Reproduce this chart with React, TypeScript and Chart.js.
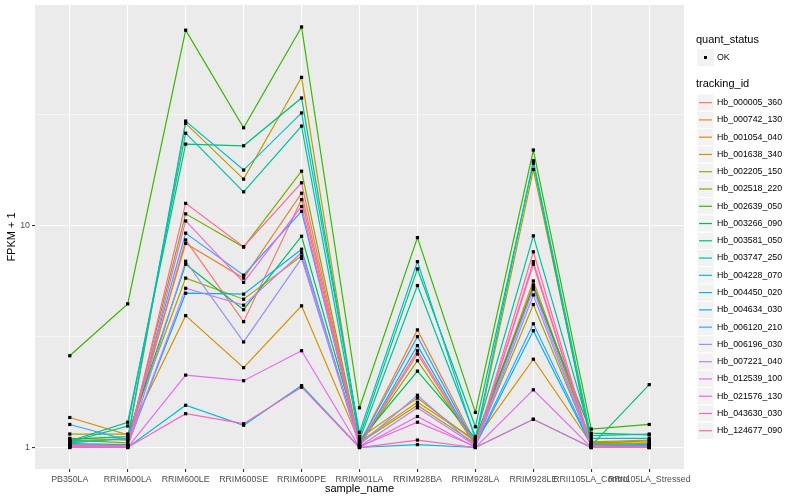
import React, { useEffect, useRef } from "react";
import { Chart, registerables } from "chart.js";

Chart.register(...registerables);

const FONT = '"Liberation Sans", Arial, Helvetica, sans-serif';

const categories = [
  "PB350LA",
  "RRIM600LA",
  "RRIM600LE",
  "RRIM600SE",
  "RRIM600PE",
  "RRIM901LA",
  "RRIM928BA",
  "RRIM928LA",
  "RRIM928LE",
  "RRII105LA_Control",
  "RRII105LA_Stressed",
];

const trackingIds = [
  "Hb_000005_360",
  "Hb_000742_130",
  "Hb_001054_040",
  "Hb_001638_340",
  "Hb_002205_150",
  "Hb_002518_220",
  "Hb_002639_050",
  "Hb_003266_090",
  "Hb_003581_050",
  "Hb_003747_250",
  "Hb_004228_070",
  "Hb_004450_020",
  "Hb_004634_030",
  "Hb_006120_210",
  "Hb_006196_030",
  "Hb_007221_040",
  "Hb_012539_100",
  "Hb_021576_130",
  "Hb_043630_030",
  "Hb_124677_090",
];

const colors = [
  "#F8766D", "#EA8331", "#D89000", "#C09B00", "#A3A500",
  "#7CAE00", "#39B600", "#00BB4E", "#00BF7D", "#00C1A3",
  "#00BFC4", "#00BAE0", "#00B0F6", "#35A2FF", "#9590FF",
  "#C77CFF", "#E76BF3", "#FA62DB", "#FF62BC", "#FF6C91",
];

// FPKM + 1 values, one array per tracking_id, in category order
const hb_000005_360 = [1.03, 1.02, 8.62, 3.69, 13.1, 1.02, 2.64, 1.02, 6.7, 1.01, 1.02];
const hb_000742_130 = [1.06, 1.1, 8.31, 5.8, 14.0, 1.04, 3.39, 1.05, 5.63, 1.06, 1.08];
const hb_001054_040 = [1.365, 1.14, 3.93, 2.29, 4.35, 1.06, 1.6, 1.08, 2.5, 1.04, 1.05];
const hb_001638_340 = [1.1, 1.08, 28.9, 16.2, 46.6, 1.1, 1.67, 1.06, 17.9, 1.07, 1.03];
const hb_002205_150 = [1.15, 1.15, 5.8, 4.66, 7.29, 1.05, 1.55, 1.04, 4.41, 1.03, 1.04];
const hb_002518_220 = [1.08, 1.05, 11.3, 8.0, 17.6, 1.03, 2.46, 1.03, 5.41, 1.05, 1.07];
const hb_002639_050 = [2.59, 4.44, 76, 27.6, 78.6, 1.51, 8.83, 1.44, 21.9, 1.21, 1.27];
const hb_003266_090 = [1.09, 1.12, 6.7, 4.18, 8.96, 1.07, 2.21, 1.1, 5.28, 1.16, 1.14];
const hb_003581_050 = [1.07, 1.3, 23.3, 22.9, 37.6, 1.12, 6.38, 1.24, 19.1, 1.02, 1.92];
const hb_003747_250 = [1.06, 1.25, 26.1, 14.2, 28.1, 1.08, 5.37, 1.12, 8.99, 1.13, 1.15];
const hb_004228_070 = [1.05, 1.1, 29.6, 17.8, 32.2, 1.17, 6.88, 1.09, 19.6, 1.1, 1.1];
const hb_004450_020 = [1.02, 1.0, 1.55, 1.26, 1.9, 1.0, 1.03, 1.0, 1.34, 1.0, 1.01];
const hb_004634_030 = [1.04, 1.03, 4.96, 4.91, 7.83, 1.02, 2.88, 1.02, 3.36, 1.02, 1.03];
const hb_006120_210 = [1.27, 1.08, 9.25, 5.98, 11.6, 1.04, 3.16, 1.03, 3.61, 1.03, 1.02];
const hb_006196_030 = [1.02, 1.01, 6.91, 2.99, 7.12, 1.03, 1.72, 1.01, 4.87, 1.01, 1.01];
const hb_007221_040 = [1.01, 1.02, 5.22, 4.38, 7.55, 1.01, 1.51, 1.02, 5.17, 1.02, 1.0];
const hb_012539_100 = [1.01, 1.0, 2.12, 2.0, 2.73, 1.0, 1.38, 1.0, 1.82, 1.0, 1.0];
const hb_021576_130 = [1.0, 1.01, 10.5, 5.55, 12.2, 1.01, 1.3, 1.01, 6.88, 1.0, 1.0];
const hb_043630_030 = [1.0, 1.0, 1.42, 1.28, 1.87, 1.0, 1.08, 1.0, 1.34, 1.0, 1.0];
const hb_124677_090 = [1.02, 1.02, 12.6, 8.04, 15.6, 1.02, 2.73, 1.02, 7.62, 1.01, 1.01];

const seriesValues = [
  hb_000005_360, hb_000742_130, hb_001054_040, hb_001638_340, hb_002205_150,
  hb_002518_220, hb_002639_050, hb_003266_090, hb_003581_050, hb_003747_250,
  hb_004228_070, hb_004450_020, hb_004634_030, hb_006120_210, hb_006196_030,
  hb_007221_040, hb_012539_100, hb_021576_130, hb_043630_030, hb_124677_090,
];

const yMajorTicks = [1, 10];
const yMinorTicks = [Math.sqrt(10), Math.sqrt(1000)];
const quantStatus = ["OK"];

const isMajor = (v: number) => yMajorTicks.some((m) => Math.abs(m - v) < 1e-6);

const backgroundPlugin = {
  id: "ggBackground",
  beforeDraw(chart: any) {
    const { ctx, chartArea } = chart;
    ctx.save();
    ctx.fillStyle = "#FFFFFF";
    ctx.fillRect(0, 0, chart.width, chart.height);
    ctx.fillStyle = "#EBEBEB";
    ctx.fillRect(chartArea.left, chartArea.top, chartArea.right - chartArea.left, chartArea.bottom - chartArea.top);
    ctx.restore();
  },
};

const pointsPlugin = {
  id: "ggPoints",
  afterDatasetsDraw(chart: any) {
    const ctx = chart.ctx;
    ctx.save();
    ctx.fillStyle = "#000000";
    chart.data.datasets.forEach((_: any, i: number) => {
      const meta = chart.getDatasetMeta(i);
      meta.data.forEach((el: any) => {
        ctx.fillRect(el.x - 1.6, el.y - 1.6, 3.2, 3.2);
      });
    });
    ctx.restore();
  },
};

const legendPlugin = {
  id: "ggLegend",
  afterDraw(chart: any) {
    const ctx = chart.ctx;
    ctx.save();
    ctx.textBaseline = "middle";
    ctx.textAlign = "left";
    ctx.fillStyle = "#000000";
    ctx.font = `11px ${FONT}`;
    ctx.fillText("quant_status", 696, 40);
    quantStatus.forEach((label, i) => {
      const top = 49 + i * 17.27;
      ctx.fillStyle = "#F2F2F2";
      ctx.fillRect(697, top, 17, 17.27);
      ctx.fillStyle = "#000000";
      ctx.fillRect(704, top + 7, 3, 3);
      ctx.font = `8.8px ${FONT}`;
      ctx.fillText(label, 717, top + 8.6);
    });
    ctx.font = `11px ${FONT}`;
    ctx.fillStyle = "#000000";
    ctx.fillText("tracking_id", 696, 84);
    const step = 17.27;
    trackingIds.forEach((id, i) => {
      const top = 94 + i * step;
      ctx.fillStyle = "#F2F2F2";
      ctx.fillRect(697, top, 17, step);
      ctx.strokeStyle = "#FFFFFF";
      ctx.lineWidth = 1;
      ctx.strokeRect(697, top, 17, step);
      ctx.strokeStyle = colors[i];
      ctx.lineWidth = 1.2;
      ctx.beginPath();
      ctx.moveTo(699, top + step / 2);
      ctx.lineTo(712, top + step / 2);
      ctx.stroke();
      ctx.fillStyle = "#000000";
      ctx.font = `8.8px ${FONT}`;
      ctx.fillText(id, 717, top + step / 2);
    });
    ctx.restore();
  },
};

export default function App() {
  const ref = useRef<HTMLCanvasElement>(null);

  useEffect(() => {
    document.body.style.margin = "0";
    const canvas = ref.current;
    if (!canvas) return;
    const datasets = trackingIds.map((id, i) => ({
      label: id,
      data: seriesValues[i].map((v, j) => ({ x: j, y: v })),
      borderColor: colors[i],
      backgroundColor: colors[i],
      borderWidth: 1.2,
      pointRadius: 0,
      pointHoverRadius: 0,
      tension: 0,
      fill: false,
      order: trackingIds.length - 1 - i,
    }));

    const chart = new Chart(canvas, {
      type: "line",
      data: { datasets },
      options: {
        animation: false,
        responsive: false,
        maintainAspectRatio: false,
        events: [],
        layout: { padding: { top: 5, right: 116, bottom: 0, left: 0 } },
        plugins: {
          legend: { display: false },
          tooltip: { enabled: false },
          title: { display: false },
        },
        scales: {
          x: {
            type: "linear",
            min: -0.6,
            max: 10.6,
            afterBuildTicks: (s: any) => {
              s.ticks = categories.map((_, i) => ({ value: i }));
            },
            afterFit: (s: any) => {
              s.height = 31;
              s.paddingLeft = 0;
              s.paddingRight = 0;
            },
            ticks: {
              autoSkip: false,
              maxRotation: 0,
              minRotation: 0,
              padding: 2,
              color: "#4D4D4D",
              font: { family: FONT, size: 8.8 },
              callback: (v: any) => categories[Math.round(Number(v))] ?? "",
            },
            grid: {
              color: "#FFFFFF",
              lineWidth: 1.1,
              tickLength: 3,
              tickColor: "#333333",
              drawTicks: true,
            },
            border: { display: false },
            title: {
              display: true,
              text: "sample_name",
              color: "#000000",
              font: { family: FONT, size: 11 },
              padding: { top: 0, bottom: 4 },
            },
          },
          y: {
            type: "logarithmic",
            min: 0.8,
            max: 98.7,
            afterBuildTicks: (s: any) => {
              s.ticks = [...yMajorTicks, ...yMinorTicks].sort((a, b) => a - b).map((v) => ({ value: v }));
            },
            afterFit: (s: any) => {
              s.width = 35;
              s.paddingTop = 0;
              s.paddingBottom = 0;
            },
            ticks: {
              padding: 2,
              color: "#4D4D4D",
              font: { family: FONT, size: 8.8 },
              callback: (v: any) => (isMajor(Number(v)) ? String(Math.round(Number(v))) : ""),
            },
            grid: {
              color: "#FFFFFF",
              lineWidth: (c: any) => (c.tick && isMajor(c.tick.value) ? 1.1 : 0.55),
              tickLength: 3,
              tickColor: (c: any) => (c.tick && isMajor(c.tick.value) ? "#333333" : "rgba(0,0,0,0)"),
              drawTicks: true,
            },
            border: { display: false },
            title: {
              display: true,
              text: "FPKM + 1",
              color: "#000000",
              font: { family: FONT, size: 11 },
              padding: { top: 5, bottom: 0 },
            },
          },
        },
      } as any,
      plugins: [backgroundPlugin, pointsPlugin, legendPlugin],
    });

    return () => chart.destroy();
  }, []);

  return (
    <div style={{ position: "absolute", left: 0, top: 0, width: 800, height: 500 }}>
      <canvas ref={ref} width={800} height={500} style={{ width: 800, height: 500, display: "block" }} />
    </div>
  );
}
